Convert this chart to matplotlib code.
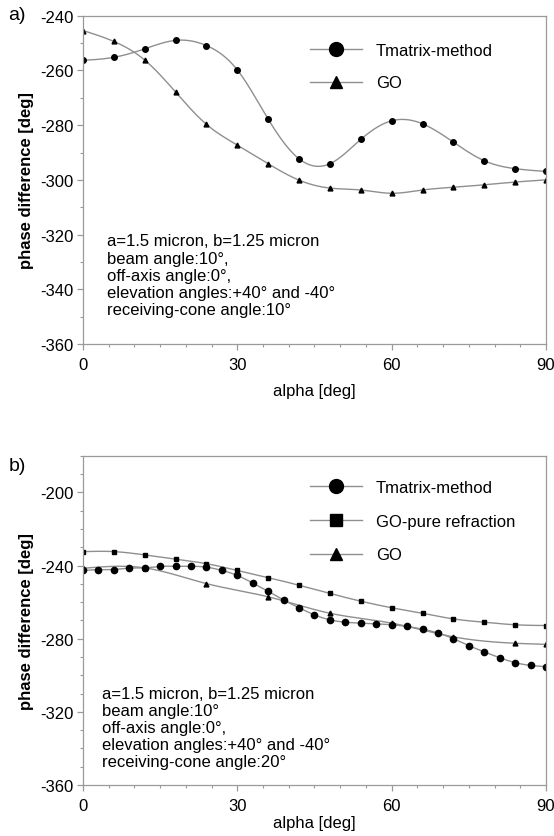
import numpy as np
import matplotlib
matplotlib.use("Agg")
import matplotlib.pyplot as plt
from matplotlib.lines import Line2D
from matplotlib.ticker import MultipleLocator

plt.rcParams['font.family'] = ['Liberation Sans', 'DejaVu Sans']
plt.rcParams['axes.unicode_minus'] = False

# ---------------- data (panel a) ----------------
alpha_a = [0, 6, 12, 18, 24, 30, 36, 42, 48, 54, 60, 66, 72, 78, 84, 90]
tmatrix_a = [-256.3, -255.2, -252.1, -249.0, -250.9, -259.8, -277.8, -292.3,
             -294.1, -285.2, -278.4, -279.5, -286.2, -293.0, -295.9, -296.9]
go_a = [-245.4, -249.4, -256.2, -267.9, -279.7, -287.3, -294.1, -300.1,
        -303.0, -303.7, -304.9, -303.7, -302.7, -301.8, -300.8, -300.0]

# ---------------- data (panel b) ----------------
alpha_tm_b = [0, 3, 6, 9, 12, 15, 18, 21, 24, 27, 30, 33, 36, 39, 42, 45, 48,
              51, 54, 57, 60, 63, 66, 69, 72, 75, 78, 81, 84, 87, 90]
tmatrix_b = [-242.7, -242.3, -242.2, -241.4, -241.3, -240.5, -240.4, -240.4,
             -240.9, -242.7, -245.4, -249.6, -254.1, -258.9, -263.1, -267.0,
             -269.7, -271.0, -271.5, -271.9, -272.4, -273.3, -274.8, -276.9,
             -280.0, -283.8, -287.2, -290.4, -293.1, -294.6, -295.3]
alpha_pure_b = [0, 6, 12, 18, 24, 30, 36, 42, 48, 54, 60, 66, 72, 78, 84, 90]
pure_b = [-232.4, -232.4, -234.2, -236.5, -239.0, -242.7, -246.6, -250.8,
          -255.3, -259.5, -263.1, -266.1, -269.2, -271.0, -272.4, -272.8]
alpha_go_b = [0, 12, 24, 36, 48, 60, 72, 84, 90]
go_b = [-241.5, -241.3, -249.9, -257.1, -266.1, -271.5, -279.0, -282.5, -283.1]

text_a = ("a=1.5 micron, b=1.25 micron\nbeam angle:10\u00b0,\noff-axis angle:0\u00b0,\n"
          "elevation angles:+40\u00b0 and -40\u00b0\nreceiving-cone angle:10\u00b0")
text_b = ("a=1.5 micron, b=1.25 micron\nbeam angle:10\u00b0\noff-axis angle:0\u00b0,\n"
          "elevation angles:+40\u00b0 and -40\u00b0\nreceiving-cone angle:20\u00b0")

LINE_C = '#8f8f8f'
SPINE_C = '#9a9a9a'
FS = 12


def smooth(x, y, n=400):
    """Natural cubic spline used only to draw the connecting curve."""
    x = np.asarray(x, float)
    y = np.asarray(y, float)
    m = len(x)
    h = np.diff(x)
    A = np.zeros((m, m))
    r = np.zeros(m)
    A[0, 0] = 1
    A[-1, -1] = 1
    for i in range(1, m - 1):
        A[i, i - 1] = h[i - 1]
        A[i, i] = 2 * (h[i - 1] + h[i])
        A[i, i + 1] = h[i]
        r[i] = 3 * ((y[i + 1] - y[i]) / h[i] - (y[i] - y[i - 1]) / h[i - 1])
    c = np.linalg.solve(A, r)
    b = (y[1:] - y[:-1]) / h - h * (2 * c[:-1] + c[1:]) / 3
    d = (c[1:] - c[:-1]) / (3 * h)
    xs = np.linspace(x[0], x[-1], n)
    idx = np.clip(np.searchsorted(x, xs) - 1, 0, m - 2)
    dx = xs - x[idx]
    ys = y[idx] + b[idx] * dx + c[idx] * dx ** 2 + d[idx] * dx ** 3
    return xs, ys


def style_axes(ax, ylim, major, minor, xlabelpad):
    ax.set_xlim(0, 90)
    ax.set_ylim(*ylim)
    ax.xaxis.set_major_locator(MultipleLocator(30))
    ax.xaxis.set_minor_locator(MultipleLocator(5))
    ax.yaxis.set_major_locator(MultipleLocator(major))
    ax.yaxis.set_minor_locator(MultipleLocator(minor))
    for s in ax.spines.values():
        s.set_color(SPINE_C)
        s.set_linewidth(0.9)
    ax.tick_params(which='both', direction='out', color=SPINE_C, labelsize=FS,
                   top=False, right=False)
    ax.tick_params(which='major', length=4, width=0.9, pad=3)
    ax.tick_params(axis='x', which='major', pad=5)
    ax.tick_params(which='minor', length=2.5, width=0.8)
    ax.set_xlabel('alpha [deg]', fontsize=FS, labelpad=xlabelpad)
    ax.set_ylabel('phase difference [deg]', fontsize=FS, fontweight='bold', labelpad=4)


fig = plt.figure(figsize=(5.54, 8.37), dpi=100)
ax1 = fig.add_axes([0.1498, 0.5878, 0.8357, 0.3922])
ax2 = fig.add_axes([0.1498, 0.0609, 0.8357, 0.3934])

# ---------- panel a ----------
xs, ys = smooth(alpha_a, tmatrix_a)
ax1.plot(xs, ys, color=LINE_C, lw=1.0)
ax1.plot(alpha_a, tmatrix_a, ls='none', marker='o', ms=4, color='black')
xs, ys = smooth(alpha_a, go_a)
ax1.plot(xs, ys, color=LINE_C, lw=1.0)
ax1.plot(alpha_a, go_a, ls='none', marker='^', ms=3.5, color='black')
style_axes(ax1, (-360, -240), 20, 10, 8)
ax1.text(0.052, 0.21, text_a, transform=ax1.transAxes, fontsize=FS,
         va='center', ha='left', linespacing=1.17)
h1 = [Line2D([], [], color=LINE_C, lw=1.0, marker='o', ms=10, mfc='black', mec='black'),
      Line2D([], [], color=LINE_C, lw=1.0, marker='^', ms=9, mfc='black', mec='black')]
ax1.legend(h1, ['Tmatrix-method', 'GO'], loc='upper left', bbox_to_anchor=(0.49, 0.917),
           frameon=False, fontsize=FS, handlelength=3.1, handletextpad=0.85,
           labelspacing=1.05, borderpad=0, borderaxespad=0)
fig.text(0.015, 1 - 16 / 837, 'a)', fontsize=14, va='center', ha='left')

# ---------- panel b ----------
xs, ys = smooth(alpha_pure_b, pure_b)
ax2.plot(xs, ys, color=LINE_C, lw=1.0)
ax2.plot(alpha_pure_b, pure_b, ls='none', marker='s', ms=3.5, color='black')
xs, ys = smooth(alpha_go_b, go_b)
ax2.plot(xs, ys, color=LINE_C, lw=1.0)
ax2.plot(alpha_go_b, go_b, ls='none', marker='^', ms=3.5, color='black')
xs, ys = smooth(alpha_tm_b, tmatrix_b)
ax2.plot(xs, ys, color=LINE_C, lw=1.0)
ax2.plot(alpha_tm_b, tmatrix_b, ls='none', marker='o', ms=4.5, color='black')
style_axes(ax2, (-360, -180), 40, 10, 2)
ax2.text(0.041, 0.174, text_b, transform=ax2.transAxes, fontsize=FS,
         va='center', ha='left', linespacing=1.17)
h2 = [Line2D([], [], color=LINE_C, lw=1.0, marker='o', ms=10, mfc='black', mec='black'),
      Line2D([], [], color=LINE_C, lw=1.0, marker='s', ms=9, mfc='black', mec='black'),
      Line2D([], [], color=LINE_C, lw=1.0, marker='^', ms=9, mfc='black', mec='black')]
ax2.legend(h2, ['Tmatrix-method', 'GO-pure refraction', 'GO'], loc='upper left',
           bbox_to_anchor=(0.49, 0.926), frameon=False, fontsize=FS, handlelength=3.1,
           handletextpad=0.85, labelspacing=1.12, borderpad=0, borderaxespad=0)
fig.text(0.015, 1 - 467 / 837, 'b)', fontsize=14, va='center', ha='left')

fig.savefig('out.png', dpi=100)
